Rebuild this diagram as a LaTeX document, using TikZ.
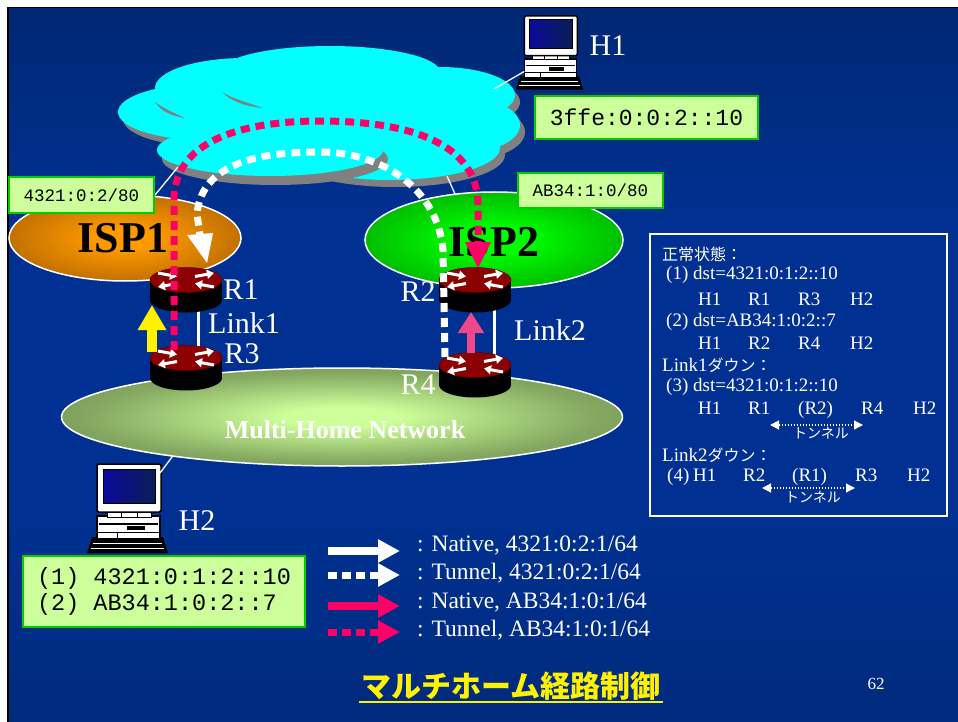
\documentclass[tikz,border=0pt]{standalone}
\usepackage{fontspec}
\setmainfont{Liberation Serif}
\setmonofont{Liberation Mono}
\newfontfamily\jafont{Noto Sans CJK JP}
\usetikzlibrary{arrows.meta,calc,shapes.geometric}

% slide background
\definecolor{bgA}{HTML}{001A55}
\definecolor{bgB}{HTML}{002A7C}
\definecolor{bgC}{HTML}{003192}
\definecolor{bgD}{HTML}{00246A}
\definecolor{bgE}{HTML}{00184A}
% network areas
\definecolor{ispAin}{HTML}{FF9A00}
\definecolor{ispAmid}{HTML}{B86A00}
\definecolor{ispAout}{HTML}{5A3200}
\definecolor{ispBin}{HTML}{00FF00}
\definecolor{ispBmid}{HTML}{00B400}
\definecolor{ispBout}{HTML}{006600}
\definecolor{mhIn}{HTML}{CCFF99}
\definecolor{mhMid}{HTML}{86AA62}
\definecolor{mhOut}{HTML}{4E6C38}
\definecolor{cloudcyan}{HTML}{00FFFF}
\definecolor{cloudgray}{HTML}{808080}
% boxes, routes, devices
\definecolor{addrfill}{HTML}{CCFF99}
\definecolor{addrline}{HTML}{00CC00}
\definecolor{tunpink}{HTML}{FF0066}
\definecolor{natpink}{HTML}{F0468C}
\definecolor{routerred}{HTML}{8C0000}
\definecolor{screenA}{HTML}{0A0A9A}
\definecolor{screenB}{HTML}{0A1E55}

\pgfdeclareverticalshading{slidebg}{100bp}{color(0bp)=(bgA); color(25bp)=(bgB); color(40bp)=(bgC); color(60bp)=(bgC); color(80bp)=(bgD); color(100bp)=(bgE)}
\pgfdeclareradialshading{ispone}{\pgfpoint{0bp}{0bp}}{color(0bp)=(ispAin); color(6bp)=(ispAin); color(28bp)=(ispAmid); color(50bp)=(ispAout); color(60bp)=(ispAout)}
\pgfdeclareradialshading{isptwo}{\pgfpoint{0bp}{0bp}}{color(0bp)=(ispBin); color(6bp)=(ispBin); color(28bp)=(ispBmid); color(50bp)=(ispBout); color(60bp)=(ispBout)}
\pgfdeclareradialshading{mhome}{\pgfpoint{0bp}{0bp}}{color(0bp)=(mhIn); color(5bp)=(mhIn); color(22bp)=(mhMid); color(44bp)=(mhOut); color(60bp)=(mhOut)}

\tikzset{
  addr/.style={draw=addrline, fill=addrfill, line width=2.5pt, inner sep=0pt, font=\ttfamily},
  lbl/.style={text=white, inner sep=0pt, font=\fontsize{30}{32}\selectfont},
  isplbl/.style={text=black, inner sep=0pt, font=\bfseries\fontsize{44}{46}\selectfont},
  thinline/.style={white, line width=1.3pt},
  linkline/.style={white, line width=3pt},
  tunwhite/.style={white, line width=7pt, dash pattern=on 9pt off 6pt},
  tunpinkln/.style={tunpink, line width=7pt, dash pattern=on 9pt off 6pt},
  info/.style={text=white, inner sep=0pt, anchor=west, font=\fontsize{19}{21}\selectfont},
  infoja/.style={text=white, inner sep=0pt, font=\jafont\fontsize{14}{16}\selectfont},
  tunarrow/.style={white, line width=1.2pt, dash pattern=on 1.5pt off 1.5pt,
    {Triangle[width=9pt,length=9pt]}-{Triangle[width=9pt,length=9pt]}},
  legend/.style={text=white, inner sep=0pt, anchor=west, font=\fontsize{23.5}{25}\selectfont},
  rtarrow/.style={white, line width=3pt, -{Triangle[width=9pt,length=7pt]}},
  router/.pic={
    \fill[black] (-36,0) rectangle (36,20);
    \fill[black] (0,20) ellipse [x radius=36, y radius=12.5];
    \node[ellipse, fill=routerred, draw=routerred!70!black, line width=0.5pt,
          minimum width=72pt, minimum height=25pt, inner sep=0pt] (-top) at (0,0) {};
    \draw[rtarrow] (-28,-7) -- (-9,-3.5);
    \draw[rtarrow] (9,-3.5) -- (28,-7);
    \draw[rtarrow] (-9,3.5) -- (-28,7);
    \draw[rtarrow] (28,7) -- (9,3.5);
  },
  computer/.pic={
    % keyboard
    \fill[black] (5,74) -- (76,74) -- (81,90) -- (0,90) -- cycle;
    \draw[white, line width=0.5pt] (6,80) -- (75,80) (4,85) -- (77,85);
    % system unit
    \filldraw[fill=white, draw=black, line width=1.2pt] (10,53) rectangle (73,76);
    \fill[black] (12,60) rectangle (71,62);
    \fill[black] (40,63) rectangle (58,67);
    \draw[black, line width=1pt] (10,69) -- (73,69) (30,69) -- (30,76);
    % stand
    \filldraw[fill=white, draw=black, line width=1pt] (20,48) rectangle (64,54);
    \draw[black, line width=1pt] (34,48) -- (34,54) (50,48) -- (50,54);
    % monitor
    \filldraw[fill=white, draw=black, line width=1.5pt, rounded corners=1.5pt] (10,1) rectangle (74,49);
    \shade[left color=screenA, right color=screenB] (16,6) rectangle (68,40);
    \draw[black, line width=1pt] (16,6) rectangle (68,40);
    \coordinate (-corner) at (73,10);
    \coordinate (-side) at (10,68);
  }
}

\begin{document}
\begin{tikzpicture}[x=1pt,y=-1pt]
\useasboundingbox (0,0) rectangle (958,722);

% page and slide
\fill[white] (0,0) rectangle (958,722);
\fill[black] (7,7) rectangle (958,722);
\shade[shading=slidebg] (9,9) rectangle (958,722);

% ---- backbone cloud ----
\begin{scope}[shift={(5,7)}]
  \fill[cloudgray] (205,112) ellipse [x radius=87, y radius=28];
  \fill[cloudgray] (245,88) ellipse [x radius=90, y radius=30];
  \fill[cloudgray] (330,72) ellipse [x radius=110, y radius=26];
  \fill[cloudgray] (440,95) ellipse [x radius=75, y radius=28];
  \fill[cloudgray] (462,125) ellipse [x radius=58, y radius=28];
  \fill[cloudgray] (390,148) ellipse [x radius=110, y radius=32];
  \fill[cloudgray] (320,115) ellipse [x radius=170, y radius=45];
\end{scope}
\fill[cloudcyan] (205,112) ellipse [x radius=87, y radius=28];
\fill[cloudcyan] (245,88) ellipse [x radius=90, y radius=30];
\fill[cloudcyan] (330,72) ellipse [x radius=110, y radius=26];
\fill[cloudcyan] (440,95) ellipse [x radius=75, y radius=28];
\fill[cloudcyan] (462,125) ellipse [x radius=58, y radius=28];
\fill[cloudcyan] (390,148) ellipse [x radius=110, y radius=32];
\fill[cloudcyan] (320,115) ellipse [x radius=170, y radius=45];
\fill[cloudgray] (275,159) ellipse [x radius=113, y radius=26];
\fill[cloudcyan] (270,150) ellipse [x radius=113, y radius=26];
\fill[cloudgray] (155,102) .. controls (162,112) and (172,116) .. (185,118)
  .. controls (172,112) and (163,108) .. (155,102) -- cycle;
\fill[cloudgray] (222,92) .. controls (232,102) and (245,106) .. (263,108)
  .. controls (246,102) and (233,99) .. (222,92) -- cycle;

\coordinate (cl-sw) at (178,167);
\coordinate (cl-se) at (447,176);
\coordinate (cl-ne) at (494,89);
\coordinate (isp1-pt) at (155,195);
\coordinate (isp2-pt) at (455,194);
\coordinate (mh-pt) at (178,449);

% ---- hosts ----
\pic[scale=0.83] (h1) at (516,15) {computer};
\pic (h2) at (87,463) {computer};
\node[lbl] (h1lbl) at (608,46) {H1};
\node[lbl] (h2lbl) at (197,521) {H2};

% attachment lines
\draw[thinline] (cl-ne) -- (h1-side);
\draw[thinline] (isp1-pt) -- (cl-sw);
\draw[thinline] (cl-se) -- (isp2-pt);
\draw[thinline] (h2-corner) -- (mh-pt);

% ---- provider and site networks ----
\node[ellipse, shade, shading=ispone, draw=white, line width=1.5pt, minimum width=232pt,
      minimum height=86pt, inner sep=0pt] (isp1) at (125,238) {};
\node[ellipse, shade, shading=isptwo, draw=white, line width=1.5pt, minimum width=258pt,
      minimum height=96pt, inner sep=0pt] (isp2) at (494,240) {};
\node[ellipse, shade, shading=mhome, draw=white, line width=1.5pt, minimum width=561pt,
      minimum height=98pt, inner sep=0pt] (mhn) at (342,417) {};
\node[isplbl] (isp1lbl) at (123,238) {ISP1};
\node[isplbl] (isp2lbl) at (494,242) {ISP2};
\node[text=white, inner sep=0pt, font=\bfseries\fontsize{26}{28}\selectfont] (mhlbl) at (345,430) {Multi-Home Network};

% ---- prefix boxes ----
\node[addr, minimum width=145pt, minimum height=36pt, font=\ttfamily\fontsize{17.5}{19}\selectfont] (pfx1) at (81.5,195) {4321:0:2/80};
\node[addr, minimum width=145pt, minimum height=35pt, font=\ttfamily\fontsize{17.5}{19}\selectfont] (pfx2) at (590.5,190.5) {AB34:1:0/80};
\node[addr, minimum width=223pt, minimum height=43pt, font=\ttfamily\fontsize{23}{25}\selectfont] (h1addr) at (646.5,117.5) {3ffe:0:0:2::10};
\node[addr, minimum width=282pt, minimum height=71pt, align=left, font=\ttfamily\fontsize{23.5}{26}\selectfont] (h2addr) at (164,591.5) {(1) 4321:0:1:2::10\\(2) AB34:1:0:2::7};

% ---- routers and links ----
\coordinate (r1c) at (186,280);
\coordinate (r3c) at (186,358);
\coordinate (r2c) at (475,280);
\coordinate (r4c) at (475,365);
\draw[linkline] ($(r1c)+(12,20)$) -- ($(r3c)+(12,0)$);
\draw[linkline] ($(r2c)+(19,20)$) -- ($(r4c)+(19,0)$);
\pic (r1) at (r1c) {router};
\pic (r3) at (r3c) {router};
\pic (r2) at (r2c) {router};
\pic (r4) at (r4c) {router};
\node[lbl] (r1lbl) at (241,290) {R1};
\node[lbl] (r3lbl) at (242,354) {R3};
\node[lbl] (r2lbl) at (418,292) {R2};
\node[lbl] (r4lbl) at (418,385) {R4};
\node[lbl] (l1lbl) at (244,323) {Link1};
\node[lbl] (l2lbl) at (550,330) {Link2};

% ---- routes ----
\coordinate (ptop) at (320,121);
\coordinate (wtop) at (320,152);
\draw[tunpinkln] ($(r3-top)+(-12,-8)$) -- ($(r1-top)+(-12,-80)$)
  to[out=90,in=180] (ptop) to[out=0,in=90] (478,205) -- (478,243);
\fill[tunpink] (465,242) -- (491,242) -- (478,268) -- cycle;
\draw[tunwhite] ($(r4-top)+(-30,-8)$) -- (443,250)
  to[out=95,in=0] (wtop) to[out=180,in=85] (197,214) -- (200,236);
\fill[white] (187,235) -- (213,233) -- (207,263) -- cycle;
\draw[yellow, line width=10pt, -{Triangle[width=27pt,length=25pt]}] ($(r3-top)+(-34,-6)$) -- ($(r1-top)+(-34,25)$);
\draw[natpink, line width=8pt, -{Triangle[width=25pt,length=21pt]}] ($(r4-top)+(-4,-12)$) -- ($(r2-top)+(-4,32)$);

% ---- route summary panel ----
\node[draw=white, line width=2pt, minimum width=297pt, minimum height=282pt, inner sep=0pt] (panel) at (798.5,375) {};
\node[info, font=\jafont\fontsize{16}{18}\selectfont] (p1) at (662,254) {正常状態：};
\node[info] (p2) at (666,275) {(1) dst=4321:0:1:2::10};
\node[info] (p3) at (698,299) {\makebox[50pt][l]{H1}\makebox[50pt][l]{R1}\makebox[52pt][l]{R3}H2};
\node[info] (p4) at (666,322) {(2) dst=AB34:1:0:2::7};
\node[info] (p5) at (698,343) {\makebox[50pt][l]{H1}\makebox[50pt][l]{R2}\makebox[52pt][l]{R4}H2};
\node[info] (p6) at (662,365) {Link1{\jafont\fontsize{16}{18}\selectfont ダウン：}};
\node[info] (p7) at (666,387) {(3) dst=4321:0:1:2::10};
\node[info] (p8) at (698,410) {\makebox[50pt][l]{H1}\makebox[50pt][l]{R1}\makebox[63pt][l]{(R2)}\makebox[52pt][l]{R4}H2};
\coordinate (ta1) at (770,425);
\coordinate (tb1) at (863,425);
\draw[tunarrow] (ta1) -- (tb1);
\node[infoja] (tn1) at (821,433) {トンネル};
\node[info] (p9) at (662,455) {Link2{\jafont\fontsize{16}{18}\selectfont ダウン：}};
\node[info] (p10) at (667,477) {\makebox[26pt][l]{(4)}\makebox[50pt][l]{H1}\makebox[49pt][l]{R2}\makebox[63pt][l]{(R1)}\makebox[52pt][l]{R3}H2};
\coordinate (ta2) at (762,488);
\coordinate (tb2) at (855,488);
\draw[tunarrow] (ta2) -- (tb2);
\node[infoja] (tn2) at (813,497) {トンネル};

% ---- legend ----
\node[legend] (lg1) at (417,545) {: Native, 4321:0:2:1/64};
\node[legend] (lg2) at (417,573) {: Tunnel, 4321:0:2:1/64};
\node[legend] (lg3) at (417,602) {: Native, AB34:1:0:1/64};
\node[legend] (lg4) at (417,630) {: Tunnel, AB34:1:0:1/64};
\coordinate (la1) at (328,551); \coordinate (lb1) at (400,551);
\coordinate (la2) at (328,575); \coordinate (lb2) at (400,575);
\coordinate (la3) at (328,606); \coordinate (lb3) at (400,606);
\coordinate (la4) at (328,632); \coordinate (lb4) at (400,632);
\draw[white, line width=8pt, -{Triangle[width=22pt,length=22pt]}] (la1) -- (lb1);
\draw[white, line width=7pt, dash pattern=on 9pt off 5pt, -{Triangle[width=22pt,length=22pt]}] (la2) -- (lb2);
\draw[tunpink, line width=8pt, -{Triangle[width=22pt,length=22pt]}] (la3) -- (lb3);
\draw[tunpink, line width=7pt, dash pattern=on 9pt off 5pt, -{Triangle[width=22pt,length=22pt]}] (la4) -- (lb4);

% ---- title and page number ----
\node[text=yellow, inner sep=0pt, anchor=base, font=\jafont\bfseries\fontsize{30}{32}\selectfont] (title) at (511,697) {マルチホーム経路制御};
\draw[yellow, line width=2pt] ($(title.base west)+(-2,5)$) -- ($(title.base east)+(2,5)$);
\node[text=white, inner sep=0pt, font=\fontsize{17}{19}\selectfont] (pgno) at (876,684) {62};
\end{tikzpicture}
\end{document}
